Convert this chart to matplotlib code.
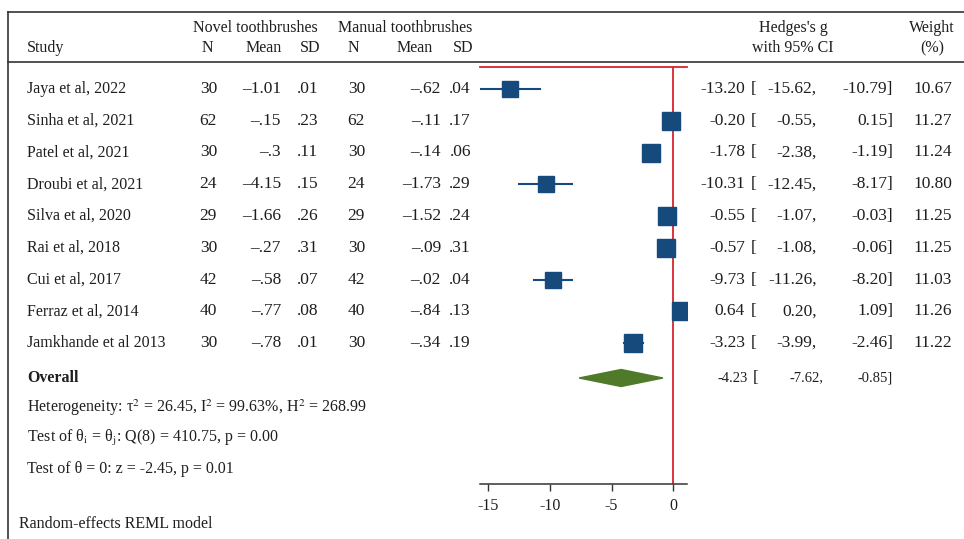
import numpy as np
import matplotlib.pyplot as plt
from matplotlib.patches import Polygon

plt.rcParams.update({
    "font.family": ["Liberation Serif", "DejaVu Serif"],
    "mathtext.fontset": "stix",
    "axes.unicode_minus": False,
})

# ---- data ----
studies = ["Jaya et al, 2022", "Sinha et al, 2021", "Patel et al, 2021",
           "Droubi et al, 2021", "Silva et al, 2020", "Rai et al, 2018",
           "Cui et al, 2017", "Ferraz et al, 2014", "Jamkhande et al 2013"]
n_novel = [30, 62, 30, 24, 29, 30, 42, 40, 30]
mean_novel = [-1.01, -0.15, -0.3, -4.15, -1.66, -0.27, -0.58, -0.77, -0.78]
sd_novel = [0.01, 0.23, 0.11, 0.15, 0.26, 0.31, 0.07, 0.08, 0.01]
n_manual = [30, 62, 30, 24, 29, 30, 42, 40, 30]
mean_manual = [-0.62, -0.11, -0.14, -1.73, -1.52, -0.09, -0.02, -0.84, -0.34]
sd_manual = [0.04, 0.17, 0.06, 0.29, 0.24, 0.31, 0.04, 0.13, 0.19]
g = [-13.20, -0.20, -1.78, -10.31, -0.55, -0.57, -9.73, 0.64, -3.23]
ci_lo = [-15.62, -0.55, -2.38, -12.45, -1.07, -1.08, -11.26, 0.20, -3.99]
ci_hi = [-10.79, 0.15, -1.19, -8.17, -0.03, -0.06, -8.20, 1.09, -2.46]
weight = [10.67, 11.27, 11.24, 10.80, 11.25, 11.25, 11.03, 11.26, 11.22]
overall = (-4.23, -7.62, -0.85)
xticks = [-15, -10, -5, 0]

TXT = "#1e1e1e"
NAVY = "#174a7c"
RED = "#d9232d"
GREEN = "#4f7a2a"
FS = 11.5     # words
NFS = 12.5    # numbers in the table


def stata(v):
    s = f"{v:g}"
    if s.startswith("0."):
        s = s[1:]
    elif s.startswith("-0."):
        s = "-" + s[2:]
    return s.replace("-", "\u2013")


W, H = 964, 539
fig = plt.figure(figsize=(W / 100, H / 100), dpi=100)

# overlay axes in pixel coordinates for the table
tx = fig.add_axes([0, 0, 1, 1])
tx.set_xlim(0, W)
tx.set_ylim(H, 0)
tx.axis("off")

# forest panel
X0, X1, YT, YB = 480, 687, 67, 484
ax = fig.add_axes([X0 / W, (H - YB) / H, (X1 - X0) / W, (YB - YT) / H])
ax.set_xlim(min(ci_lo), max(ci_hi))
ax.set_ylim(YB, YT)

ROW0, ROWH = 89, 31.75
rows = [ROW0 + ROWH * i for i in range(len(studies))]
y_over = 378

# frame lines
tx.plot([8, 8], [12, H], color="#333333", lw=1.2)
tx.plot([8, W], [12, 12], color="#333333", lw=1.2)
tx.plot([8, W], [62, 62], color="#333333", lw=1.2)

# headers
tx.text(255, 28, "Novel toothbrushes", ha="center", va="center", fontsize=FS, color=TXT)
tx.text(405, 28, "Manual toothbrushes", ha="center", va="center", fontsize=FS, color=TXT)
tx.text(27, 48, "Study", ha="left", va="center", fontsize=FS, color=TXT)
for xc, lab, ha in [(207, "N", "center"), (282, "Mean", "right"), (320, "SD", "right"),
                    (353, "N", "center"), (433, "Mean", "right"), (473, "SD", "right")]:
    tx.text(xc, 48, lab, ha=ha, va="center", fontsize=FS, color=TXT)
tx.text(793, 28, "Hedges's g", ha="center", va="center", fontsize=FS, color=TXT)
tx.text(793, 48, "with 95% CI", ha="center", va="center", fontsize=FS, color=TXT)
tx.text(932, 28, "Weight", ha="center", va="center", fontsize=FS, color=TXT)
tx.text(932, 48, "(%)", ha="center", va="center", fontsize=FS, color=TXT)

# study rows
kw = dict(va="center", color=TXT)
for i, y in enumerate(rows):
    tx.text(27, y, studies[i], ha="left", fontsize=FS, **kw)
    tx.text(217, y, str(n_novel[i]), ha="right", fontsize=NFS, **kw)
    tx.text(281, y, stata(mean_novel[i]), ha="right", fontsize=NFS, **kw)
    tx.text(318, y, stata(sd_novel[i]), ha="right", fontsize=NFS, **kw)
    tx.text(365, y, str(n_manual[i]), ha="right", fontsize=NFS, **kw)
    tx.text(441, y, stata(mean_manual[i]), ha="right", fontsize=NFS, **kw)
    tx.text(471, y, stata(sd_manual[i]), ha="right", fontsize=NFS, **kw)
    tx.text(745, y, f"{g[i]:.2f}", ha="right", fontsize=NFS, **kw)
    tx.text(751, y, "[", ha="left", fontsize=NFS, **kw)
    tx.text(817, y, f"{ci_lo[i]:.2f},", ha="right", fontsize=NFS, **kw)
    tx.text(893, y, f"{ci_hi[i]:.2f}]", ha="right", fontsize=NFS, **kw)
    tx.text(952, y, f"{weight[i]:.2f}", ha="right", fontsize=NFS, **kw)

    ax.plot([ci_lo[i], ci_hi[i]], [y, y], color=NAVY, lw=1.5, zorder=3)
    ms = 12.3 * np.sqrt(weight[i] / max(weight))
    ax.plot(g[i], y, marker="s", ms=ms, color=NAVY, mec=NAVY, zorder=4)

# overall
OFS = 10.5
tx.text(27, y_over, "Overall", ha="left", fontsize=FS, fontweight="bold", **kw)
tx.text(748, y_over, f"{overall[0]:.2f}", ha="right", fontsize=OFS, **kw)
tx.text(753, y_over, "[", ha="left", fontsize=NFS, **kw)
tx.text(823, y_over, f"{overall[1]:.2f},", ha="right", fontsize=OFS, **kw)
tx.text(893, y_over, f"{overall[2]:.2f}]", ha="right", fontsize=OFS, **kw)
dh = 8.5
ax.add_patch(Polygon([(overall[1], y_over), (overall[0], y_over - dh),
                      (overall[2], y_over), (overall[0], y_over + dh)],
                     closed=True, fc=GREEN, ec=GREEN, zorder=4))

tx.text(27, 408, "Heterogeneity: \u03c4$^2$ = 26.45, I$^2$ = 99.63%, H$^2$ = 268.99",
        ha="left", fontsize=FS, **kw)
tx.text(27, 438, "Test of \u03b8$_\\mathrm{i}$ = \u03b8$_\\mathrm{j}$: Q(8) = 410.75, p = 0.00",
        ha="left", fontsize=FS, **kw)
tx.text(27, 469, "Test of \u03b8 = 0: z = -2.45, p = 0.01",
        ha="left", fontsize=FS, **kw)
tx.text(19, 524, "Random-effects REML model", ha="left", fontsize=FS, **kw)

# forest axis styling
ax.axvline(0, color=RED, lw=1.3, zorder=2)
ax.set_facecolor("none")
for s in ["left", "right"]:
    ax.spines[s].set_visible(False)
ax.spines["top"].set_color(RED)
ax.spines["top"].set_linewidth(1.3)
ax.spines["bottom"].set_color("#333333")
ax.spines["bottom"].set_linewidth(1.1)
ax.set_yticks([])
ax.set_xticks(xticks)
ax.set_xticklabels([str(t) for t in xticks])
ax.tick_params(axis="x", length=5, width=1, color="#333333", labelsize=FS,
               labelcolor=TXT, pad=5)

fig.savefig("out.png", dpi=100)
